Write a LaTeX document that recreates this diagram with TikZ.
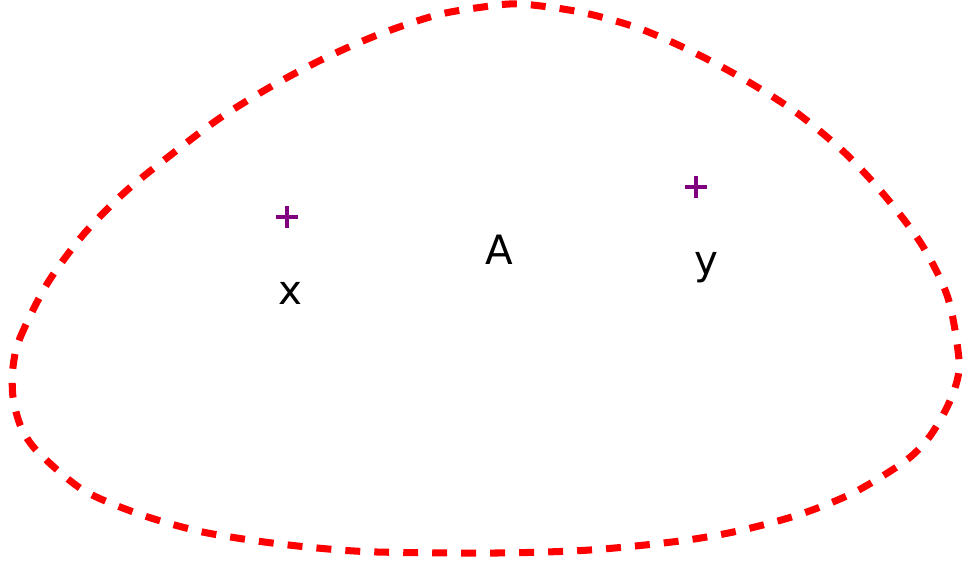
\documentclass[tikz,border=0pt]{standalone}
\usepackage{fontspec}
\setmainfont{DejaVu Sans}
\definecolor{blobred}{HTML}{FF0000}
\definecolor{ptpurple}{HTML}{800080}
\tikzset{
  blobline/.style={draw=blobred, line width=4pt, dash pattern=on 8.5pt off 8pt},
  crossmark/.style={draw=ptpurple, line width=1.9pt},
  ptlabel/.style={font=\fontsize{23}{27}\selectfont, inner sep=0pt, anchor=base}
}
\begin{document}
\begin{tikzpicture}[x=0.02cm, y=-0.02cm]
  \useasboundingbox (0,0) rectangle (965,567);
  % the set A
  \draw[blobline] plot[smooth cycle, tension=0.5] coordinates {
    (13,367) (20,338) (47,284) (83,235) (125,192) (172,154) (220,118)
    (272,86) (325,58) (380,34) (437,15) (483,7) (520,4) (580,12)
    (638,28) (693,52) (747,81) (797,113) (845,153) (885,196) (922,245)
    (948,298) (959,360) (955,388) (943,415) (927,440) (904,462)
    (853,493) (798,515) (738,531) (680,541) (590,550) (497,553)
    (377,552) (317,548) (257,541) (198,531) (139,514) (83,490)
    (38,452) (21,427) (13,397)};
  % points and labels
  \coordinate (px) at (287,217);
  \coordinate (py) at (696,187);
  \draw[crossmark, shift={(px)}] (-11,0) -- (11,0) (0,-11) -- (0,11);
  \draw[crossmark, shift={(py)}] (-11,0) -- (11,0) (0,-11) -- (0,11);
  \node[ptlabel] (lx) at (290,305) {x};
  \node[ptlabel] (lA) at (499,265) {A};
  \node[ptlabel] (ly) at (706,275) {y};
\end{tikzpicture}
\end{document}
